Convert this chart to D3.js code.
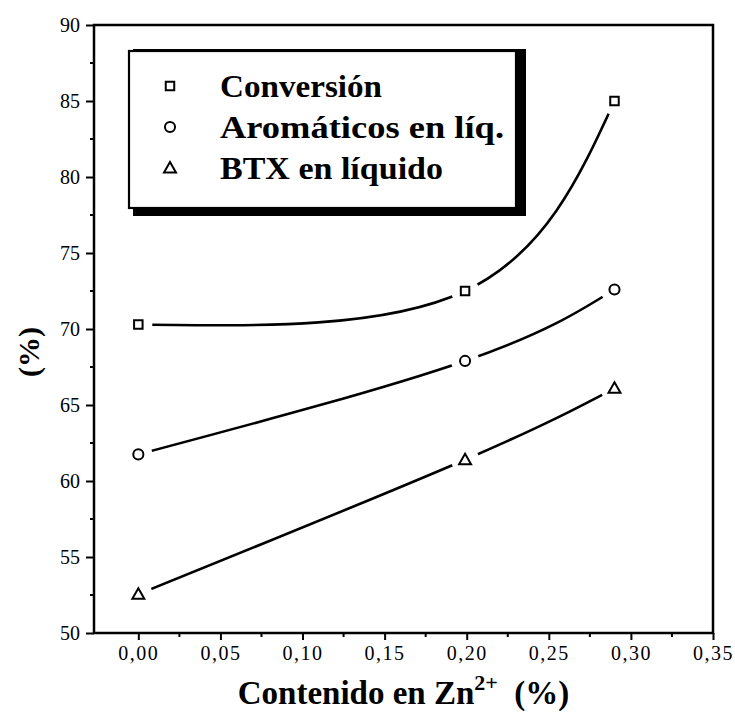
<!DOCTYPE html>
<html>
<head>
<meta charset="utf-8">
<script src="https://cdn.jsdelivr.net/npm/d3@7"></script>
<style>
  html, body { margin: 0; padding: 0; background: #fff; }
  svg { display: block; }
  text { font-family: "Liberation Serif", "Times New Roman", serif; fill: #000; }
</style>
</head>
<body>
<svg id="chart" width="735" height="714"></svg>
<script>
// ---- data ----
const znContent = [0.0, 0.199, 0.290];
const conversion = [70.3, 72.5, 85.0];
const aromaticos = [61.75, 67.9, 72.6];
const btxLiquido = [52.55, 61.4, 66.1];
const seriesNames = ["Conversión", "Aromáticos en líq.", "BTX en líquido"];
const seriesSymbols = ["square", "circle", "triangle"];
const xTickValues = [0.00, 0.05, 0.10, 0.15, 0.20, 0.25, 0.30, 0.35];
const yTickValues = [50, 55, 60, 65, 70, 75, 80, 85, 90];
const xTitle = "Contenido en Zn";
const xTitleSup = "2+";
const xTitleTail = "(%)";
const yTitle = "(%)";

const seriesValues = [conversion, aromaticos, btxLiquido];

// ---- layout ----
const svg = d3.select("#chart");
const pLeft = 94, pRight = 713, pTop = 25, pBottom = 633;
const legendTextLengths = [162, 284, 223];
const x = d3.scaleLinear().domain([-0.027, 0.35]).range([pLeft, pRight]);
const y = d3.scaleLinear().domain([50, 90]).range([pBottom, pTop]);
const fmt = v => d3.format(".2f")(v).replace(".", ",");

// frame
svg.append("rect")
  .attr("x", pLeft).attr("y", pTop)
  .attr("width", pRight - pLeft).attr("height", pBottom - pTop)
  .attr("fill", "none").attr("stroke", "#000").attr("stroke-width", 2.5);

// y axis (major)
const yAxis = d3.axisLeft(y).tickValues(yTickValues).tickSize(8).tickPadding(6).tickFormat(d3.format("d"));
const gy = svg.append("g").attr("transform", `translate(${pLeft},0)`).call(yAxis);
gy.select(".domain").remove();
gy.selectAll(".tick line").attr("stroke", "#000").attr("stroke-width", 2);
gy.selectAll(".tick text").style("font-size", "20px").style("font-family", "Liberation Serif");
// y minor
const yMinor = d3.range(52.5, 90, 5);
svg.append("g").selectAll("line").data(yMinor).join("line")
  .attr("x1", pLeft - 4).attr("x2", pLeft).attr("y1", d => y(d)).attr("y2", d => y(d))
  .attr("stroke", "#000").attr("stroke-width", 2);

// x axis (major)
const xAxis = d3.axisBottom(x).tickValues(xTickValues).tickSize(7).tickPadding(6).tickFormat(fmt);
const gx = svg.append("g").attr("transform", `translate(0,${pBottom})`).call(xAxis);
gx.select(".domain").remove();
gx.selectAll(".tick line").attr("stroke", "#000").attr("stroke-width", 2);
gx.selectAll(".tick text").style("font-size", "20px").style("font-family", "Liberation Serif")
  .attr("letter-spacing", "1.5px");
const xMinor = d3.range(0.025, 0.35, 0.05);
svg.append("g").selectAll("line").data(xMinor).join("line")
  .attr("x1", d => x(d)).attr("x2", d => x(d)).attr("y1", pBottom).attr("y2", pBottom + 4)
  .attr("stroke", "#000").attr("stroke-width", 2);

// mask for line gaps around symbols
const defs = svg.append("defs");
const mask = defs.append("mask").attr("id", "gapmask").attr("maskUnits", "userSpaceOnUse")
  .attr("x", 0).attr("y", 0).attr("width", 735).attr("height", 714);
mask.append("rect").attr("x", 0).attr("y", 0).attr("width", 735).attr("height", 714).attr("fill", "#fff");
seriesValues.forEach(vals => {
  vals.forEach((v, i) => {
    mask.append("circle").attr("cx", x(znContent[i])).attr("cy", y(v)).attr("r", 14).attr("fill", "#000");
  });
});

// curves
const line = d3.line().x(d => x(d[0])).y(d => y(d[1])).curve(d3.curveNatural);
const gLines = svg.append("g").attr("mask", "url(#gapmask)");
seriesValues.forEach(vals => {
  gLines.append("path")
    .datum(vals.map((v, i) => [znContent[i], v]))
    .attr("d", line)
    .attr("fill", "none").attr("stroke", "#000").attr("stroke-width", 2.6);
});

// symbols
const symType = { square: d3.symbolSquare, circle: d3.symbolCircle, triangle: d3.symbolTriangle };
const symSize = { square: 72, circle: 80, triangle: 62 };
function drawSymbol(g, kind, cx, cy) {
  const dy = kind === "triangle" ? 1 : 0;
  g.append("path")
    .attr("d", d3.symbol().type(symType[kind]).size(symSize[kind])())
    .attr("transform", `translate(${cx},${cy + dy})`)
    .attr("fill", "#fff").attr("stroke", "#000").attr("stroke-width", 2);
}
const gSym = svg.append("g");
seriesValues.forEach((vals, s) => {
  vals.forEach((v, i) => drawSymbol(gSym, seriesSymbols[s], x(znContent[i]), y(v)));
});

// legend
const lg = svg.append("g");
lg.append("rect").attr("x", 133).attr("y", 49).attr("width", 393).attr("height", 167).attr("fill", "#000");
lg.append("rect").attr("x", 129).attr("y", 51).attr("width", 387).attr("height", 157)
  .attr("fill", "#fff").attr("stroke", "#000").attr("stroke-width", 2.2);
const legendRowY = [86, 127, 168];
seriesNames.forEach((name, i) => {
  drawSymbol(lg, seriesSymbols[i], 170, legendRowY[i]);
  lg.append("text").attr("x", 220).attr("y", legendRowY[i] + 11)
    .attr("textLength", legendTextLengths[i]).attr("lengthAdjust", "spacingAndGlyphs")
    .style("font-size", "32px").style("font-weight", "bold").text(name);
});

// x title
const xt = svg.append("text").attr("x", (pLeft + pRight) / 2).attr("y", 704)
  .attr("text-anchor", "middle").style("font-size", "33px").style("font-weight", "bold");
xt.append("tspan").text(xTitle);
xt.append("tspan").attr("dy", -14).style("font-size", "22px").text(xTitleSup);
xt.append("tspan").attr("dy", 14).text("\u00a0 " + xTitleTail);

// y title
svg.append("text").attr("transform", "translate(28,352) rotate(-90)")
  .attr("text-anchor", "middle").attr("dominant-baseline", "central")
  .style("font-size", "30px").style("font-weight", "bold").text(yTitle);
</script>
</body>
</html>
